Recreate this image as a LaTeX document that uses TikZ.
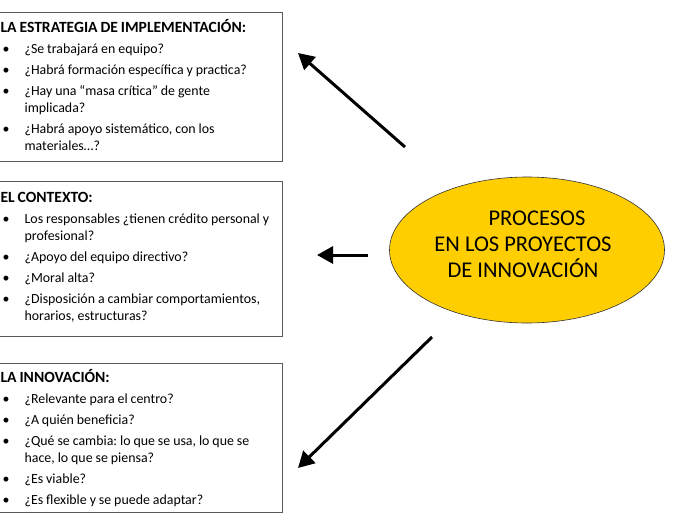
\documentclass[tikz,border=0pt]{standalone}
\usepackage{fontspec}
\setmainfont{Carlito}
\usetikzlibrary{arrows.meta,shapes.geometric}
\definecolor{procyellow}{RGB}{255,206,0}
\newcommand{\qhead}[1]{\raggedright\hyphenpenalty=10000 \frenchspacing\spaceskip=0.21em plus 0.05em\relax
  \noindent{\fontsize{15.6}{17}\selectfont\bfseries #1}\par\vspace{4pt}}
\newcommand{\qitem}[1]{\hangindent=24pt\hangafter=1\noindent\makebox[24pt][l]{\hspace{2pt}\textbullet}#1\par\vspace{4pt}}

\begin{document}
\begin{tikzpicture}[x=1pt,y=-1pt,
  qbox/.style={rectangle, draw=black!65, line width=1.2pt, fill=white, anchor=north west, text width=270pt, inner xsep=12pt, inner ysep=4pt, minimum width=294pt, font=\fontsize{13.9}{17}\selectfont, align=left},
  proc/.style={ellipse, draw=black!80, line width=0.6pt, fill=procyellow, minimum width=275pt, minimum height=146pt, inner sep=0pt},
  proctext/.style={align=center, inner sep=0pt, font=\fontsize{22.5}{26}\selectfont},
  arr/.style={-{Triangle[length=16pt,width=17pt]}, line width=3pt}
]
\useasboundingbox (0,0) rectangle (697,520);

% question boxes
\node[qbox, minimum height=149pt] (estrategia) at (-12,12) {%
  \qhead{LA ESTRATEGIA DE IMPLEMENTACIÓN:}
  \qitem{¿Se trabajará en equipo?}
  \qitem{¿Habrá formación específica y practica?}
  \qitem{¿Hay una “masa crítica” de gente\newline implicada?}
  \qitem{¿Habrá apoyo sistemático, con los\newline materiales…?}
  \vspace{6pt}};
\node[qbox, minimum height=155pt] (contexto) at (-12,181) {%
  \qhead{EL CONTEXTO:}
  \qitem{Los responsables ¿tienen crédito personal y\newline profesional?}
  \qitem{¿Apoyo del equipo directivo?}
  \qitem{¿Moral alta?}
  \qitem{¿Disposición a cambiar comportamientos,\newline horarios, estructuras?}
  \vspace{24pt}};
\node[qbox, minimum height=149pt] (innovacion) at (-12,363) {%
  \qhead{LA INNOVACIÓN:}
  \qitem{¿Relevante para el centro?}
  \qitem{¿A quién beneficia?}
  \qitem{¿Qué se cambia: lo que se usa, lo que se\newline hace, lo que se piensa?}
  \qitem{¿Es viable?}
  \qitem{¿Es flexible y se puede adaptar?}};

% central process
\node[proc] (procesos) at (527,250) {};
\node[proctext] (procesos-txt) at (523,244) {\hspace*{28pt}PROCESOS\\EN LOS PROYECTOS\\DE INNOVACIÓN};

% arrow ends
\coordinate (a1s) at (405,147);
\coordinate (a1e) at (298,53);
\coordinate (a2s) at (368,255);
\coordinate (a2e) at (317,255);
\coordinate (a3s) at (432,337);
\coordinate (a3e) at (298,468);

\draw[arr] (a1s) -- (a1e);
\draw[arr] (a2s) -- (a2e);
\draw[arr] (a3s) -- (a3e);
\end{tikzpicture}
\end{document}
